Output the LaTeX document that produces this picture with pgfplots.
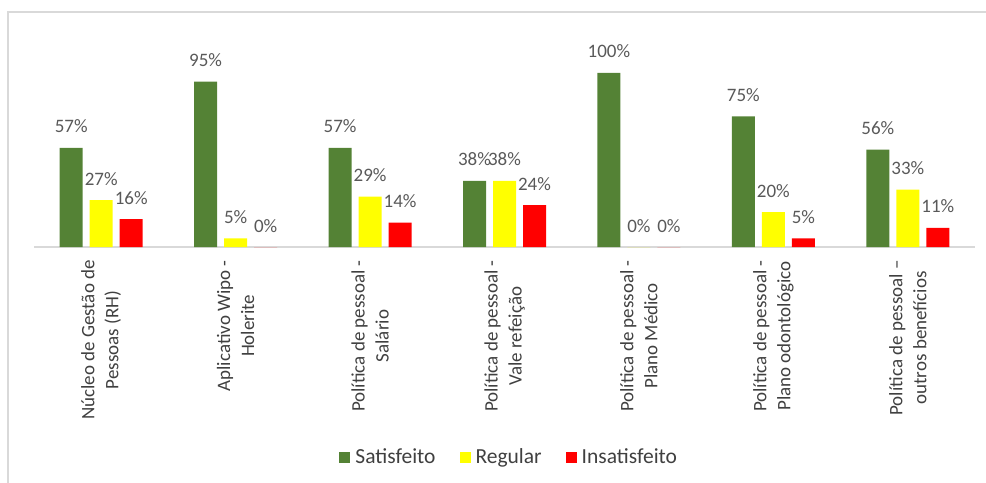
\documentclass[border=0pt]{standalone}
\usepackage{pgfplots}
\pgfplotsset{compat=1.18}
\usepackage{pgfplotstable}
\usepackage{fontspec}
\setmainfont{Carlito}

\definecolor{verde}{HTML}{548235}
\definecolor{amarelo}{HTML}{FFFF00}
\definecolor{vermelho}{HTML}{FF0000}
\definecolor{moldura}{HTML}{D9D9D9}
\definecolor{rotulo}{HTML}{595959}
\definecolor{texto}{HTML}{404040}

% satisfeito / regular / insatisfeito (%)
\pgfplotstableread{
cat sat reg ins
0   57  27  16
1   95  5   0
2   57  29  14
3   38  38  24
4   100 0   0
5   75  20  5
6   56  33  11
}\dados

\begin{document}
\begin{tikzpicture}
\useasboundingbox (0,0) rectangle (986bp,483bp);
\draw[moldura, line width=1.5bp] (8bp,-10bp) -- (8bp,471bp) -- (1000bp,471bp);
\begin{axis}[
    at={(34bp,236bp)}, anchor=south west,
    scale only axis, width=941bp, height=208.8bp,
    xmin=-0.5, xmax=6.5, ymin=0, ymax=120,
    ybar=7bp, bar width=23bp,
    axis y line=none, axis x line*=bottom,
    x axis line style={moldura, line width=1.3bp},
    xtick={0,...,6},
    xticklabels={
        {Núcleo de Gestão de\\Pessoas (RH)},
        {Aplicativo Wipo -\\Holerite},
        {Política de pessoal -\\Salário},
        {Política de pessoal -\\Vale refeição},
        {Política de pessoal -\\Plano Médico},
        {Política de pessoal -\\Plano odontológico},
        {Política de pessoal –\\outros benefícios}},
    major tick length=0pt,
    xticklabel style={rotate=90, anchor=east, align=center,
        font=\fontsize{19bp}{24bp}\selectfont, text=texto, inner sep=0pt},
    xticklabel shift=13bp,
    nodes near coords={\pgfmathprintnumber[assume math mode=true]{\pgfplotspointmeta}\%},
    every node near coord/.append style={font=\fontsize{19bp}{23bp}\selectfont,
        text=rotulo, anchor=base, yshift=15bp, inner sep=0pt},
    legend image code/.code={\fill[#1] (0bp,-5.5bp) rectangle (11bp,5.5bp); \path (14bp,0bp);},
    legend style={at={(0.505,-1.006)}, anchor=center, legend columns=3, draw=none,
        font=\fontsize{21.5bp}{24bp}\selectfont, text=texto,
        /tikz/every even column/.append style={column sep=22bp}},
    clip=false,
]
\addplot[fill=verde, draw=none] table[x=cat, y=sat] {\dados};
\addplot[fill=amarelo, draw=none] table[x=cat, y=reg] {\dados};
\addplot[fill=vermelho, draw=none] table[x=cat, y=ins] {\dados};
\legend{Satisfeito, Regular, Insatisfeito}
\end{axis}
\end{tikzpicture}
\end{document}
